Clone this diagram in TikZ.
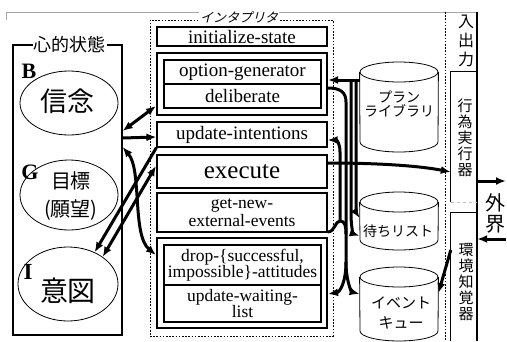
\documentclass[tikz,border=0pt]{standalone}
\usepackage{fontspec}
\setmainfont{Liberation Serif}
\newfontfamily\jp{Noto Sans CJK JP}
\newfontfamily\jpsl{Noto Sans CJK JP}[FakeSlant=0.25]
\usetikzlibrary{arrows.meta,shapes.geometric}
\tikzset{
  proc/.style={draw, line width=1.2pt, minimum width=170pt, inner sep=0pt},
  tproc/.style={draw, line width=2.1pt, minimum width=170pt, inner sep=0pt},
  iproc/.style={draw, line width=1.2pt, minimum width=157pt, inner sep=0pt},
  arr/.style={line width=3pt, -{Latex[length=10pt,width=8pt]}},
  darr/.style={line width=3pt, {Latex[length=10pt,width=8pt]}-{Latex[length=10pt,width=8pt]}},
  wire/.style={line width=3pt},
  mind/.style={draw, ellipse, line width=0.8pt, inner sep=0pt},
  lbl/.style={inner sep=0pt, align=center},
  dbell/.style={draw, ellipse, line width=0.8pt, minimum width=78pt, minimum height=20pt, inner sep=0pt},
}
\newcommand{\dbcyl}[4]{%
  \node[dbell] (#1top) at (#2,#3) {};
  \draw[line width=0.8pt] (#1top.west) -- (#2-39,#4) .. controls (#2-39,#4+5.52) and (#2-21.54,#4+10) .. (#2,#4+10) .. controls (#2+21.54,#4+10) and (#2+39,#4+5.52) .. (#2+39,#4) -- (#1top.east);
}
\begin{document}
\begin{tikzpicture}[x=1pt,y=-1pt]
\useasboundingbox (0,0) rectangle (507,341);
\fill[white] (0,0) rectangle (507,341);

% outer frame traces
\draw[gray!70, line width=0.8pt] (6,20) -- (6,12) -- (477,12);
\draw[line width=0.9pt, dash pattern=on 1.6pt off 1.6pt] (445,12) -- (445,341);
\draw[line width=1.2pt] (477,12) -- (477,341);

% I/O column
\node[lbl, font=\jp\fontsize{16}{19}\selectfont] (iolbl) at (466,41) {入\\出\\力};
\node[minimum width=26pt, minimum height=130pt, inner sep=0pt] (act) at (464,137) {};
\draw[line width=1.2pt] (act.south west) -- (act.north west) -- (act.north east);
\draw[gray!50, line width=0.6pt, dashed] (act.south west) -- (act.south east);
\node[lbl, font=\jp\fontsize{15}{16}\selectfont] (acttxt) at (465,138) {行\\為\\実\\行\\器};
\node[minimum width=26pt, minimum height=128pt, inner sep=0pt] (sens) at (464,277) {};
\draw[line width=1.2pt] (sens.south west) -- (sens.north west) -- (sens.north east);
\node[lbl, font=\jp\fontsize{15}{16}\selectfont] (senstxt) at (466,282) {環\\境\\知\\覚\\器};
\node[lbl, font=\jp\fontsize{20}{21}\selectfont] (world) at (495,213) {外\\界};
\coordinate (extout) at (506,181);
\coordinate (extin) at (506,239);
\draw[arr] (act.east |- 0,181) -- (extout);
\draw[arr] (extin) -- (sens.east |- 0,239);

% mental state
\node[draw, line width=1.2pt, minimum width=109pt, minimum height=290pt, inner sep=0pt] (mental) at (67.5,190) {};
\node[fill=white, inner sep=1pt, font=\jp\fontsize{18}{18}\selectfont] (mentallbl) at (70,45) {心的状態};
\node[mind, minimum width=98pt, minimum height=64pt] (bel) at (69,103) {};
\node[lbl, font=\jp\fontsize{27}{27}\selectfont] (beltxt) at (68,101) {信念};
\node[lbl, font=\bfseries\fontsize{22}{22}\selectfont] (bl) at (29,71) {B};
\node[mind, minimum width=98pt, minimum height=70pt] (des) at (69,195) {};
\node[lbl, font=\jp\fontsize{20}{28}\selectfont] (destxt) at (71,196) {目標\\(願望)};
\node[lbl, font=\bfseries\fontsize{22}{22}\selectfont] (gl) at (30,172) {G};
\node[mind, minimum width=100pt, minimum height=74pt] (intn) at (68,284) {};
\node[lbl, font=\jp\fontsize{28}{28}\selectfont] (inttxt) at (68,291) {意図};
\node[lbl, font=\bfseries\fontsize{23}{23}\selectfont] (il) at (28,272) {I};

% interpreter
\node[draw, line width=0.9pt, dash pattern=on 1.6pt off 1.6pt, minimum width=183pt, minimum height=316pt, inner sep=0pt] (interp) at (241.5,178) {};
\node[fill=white, inner sep=1pt, font=\jpsl\fontsize{13}{13}\selectfont] (interplbl) at (239,17) {インタプリタ};

\node[proc, minimum height=19pt, font=\fontsize{19}{19}\selectfont] (init) at (242,36.5) {initialize-state};
\node[tproc, minimum height=62pt] (optout) at (242,84) {};
\node[iproc, minimum height=24pt, font=\fontsize{19}{19}\selectfont] (optgen) at (242.5,72) {option-generator};
\node[iproc, minimum height=24pt, font=\fontsize{19}{19}\selectfont] (delib) at (242.5,96) {deliberate};
\node[proc, minimum height=25pt, font=\fontsize{19}{19}\selectfont] (updint) at (242,134.5) {update-intentions};
\node[tproc, minimum height=33pt, font=\fontsize{25}{25}\selectfont] (exec) at (242,171.5) {execute};
\node[proc, minimum height=39pt, align=center, font=\fontsize{17.5}{18}\selectfont] (getnew) at (242,212.5) {get-new-\\external-events};
\node[tproc, minimum height=90pt] (dropout) at (242,283) {};
\node[iproc, minimum height=40pt, align=center, font=\fontsize{17.5}{16.5}\selectfont] (drop) at (242.5,265) {drop-\{successful,\\impossible\}-attitudes};
\node[iproc, minimum height=37pt, align=center, font=\fontsize{17.5}{16}\selectfont] (updwait) at (242.5,303.5) {update-waiting-\\list};

% databases
\dbcyl{plib}{399}{72}{142}
\node[lbl, font=\jp\fontsize{14}{14}\selectfont] (plibtxt) at (399,104) {プラン\\ライブラリ};
\dbcyl{wait}{399}{202}{240}
\node[lbl, font=\jp\fontsize{14}{14}\selectfont] (waittxt) at (398,231) {待ちリスト};
\dbcyl{evq}{399}{277}{331}
\node[lbl, font=\jp\fontsize{15}{20}\selectfont] (evqtxt) at (401,313) {イベント\\キュー};

% left connectors
\draw[darr] (mental.east |- 0,131) -- (optout.west |- 0,106);
\draw[arr] (mental.east |- 0,138) -- (updint.west |- 0,137);
\draw[darr] (mental.east |- 0,147) .. controls (142,170) and (132,235) .. (dropout.west |- 0,255);
\draw[arr] (updint.south west) -- (intn.50);
\draw[darr] (intn.38) -- (exec.west |- 0,166);

% right connectors
\coordinate (br1) at (356,80);
\coordinate (br2) at (351,80);
\coordinate (jn) at (346,262);
\coordinate (cap) at (340,221);
\draw[arr] (plibtop.west |- 0,80) -- (optout.east |- 0,80);
\draw[arr] (br1) -- (356,196) .. controls (356,208) and (357,214) .. (waittop.west |- 0,218);
\draw[arr] (br2) -- (351,214) .. controls (351,228) and (354,234) .. (waittop.west |- 0,236);
\draw[wire] (optout.east |- 0,88) .. controls (340,88) and (346,92) .. (346,102) -- (jn);
\draw[wire] (getnew.east |- 0,232) .. controls (335,232) and (335,221) .. (cap) .. controls (345,221) and (346,226) .. (346,234);
\draw[arr] (cap) -- (340,152) .. controls (340,144) and (337,140) .. (updint.east |- 0,140);
\draw[arr] (jn) .. controls (346,282) and (340,292) .. (dropout.east |- 0,294);
\draw[arr] (jn) .. controls (346,282) and (352,292) .. (evqtop.west |- 0,294);
\draw[arr] (exec.east |- 0,163) .. controls (380,163) and (420,166) .. (act.west |- 0,172);
\draw[arr] (sens.west |- 0,250) -- (evqtop.east |- 0,293);
\end{tikzpicture}
\end{document}
